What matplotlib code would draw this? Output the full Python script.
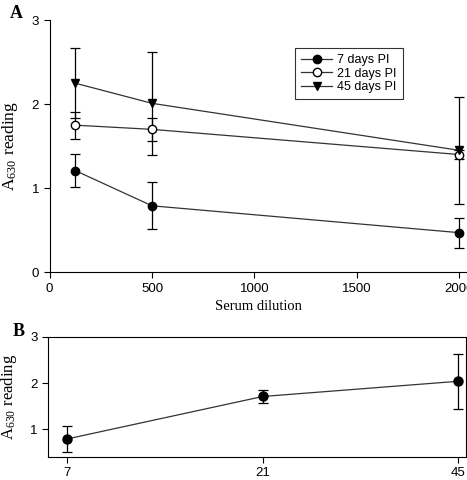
import matplotlib
matplotlib.use('Agg')
import matplotlib.pyplot as plt

# panel A: absorbance vs serum dilution
dilution = [125, 500, 2000]
d7 = [1.21, 0.79, 0.47]
d7_err = [0.20, 0.28, 0.18]
d21 = [1.75, 1.70, 1.40]
d21_err = [0.16, 0.14, 0.05]
d45 = [2.25, 2.01, 1.45]
d45_err = [0.42, 0.61, 0.64]

# panel B: absorbance vs days post infection
days = ['7', '21', '45']
b_vals = [0.79, 1.71, 2.04]
b_err = [0.28, 0.145, 0.60]

plt.rcParams['font.family'] = ['Liberation Sans', 'DejaVu Sans']
plt.rcParams['mathtext.fontset'] = 'stix'
serif = 'Liberation Serif'

fig = plt.figure(figsize=(4.67, 4.8), dpi=100)

ax = fig.add_axes([0.106, 0.433, 0.894, 0.525])
line_c = '#333333'
ekw = dict(fmt='none', ecolor='black', elinewidth=0.9, capsize=3.5, capthick=0.9)
lkw = dict(color=line_c, lw=0.9, mec='black')
ax.errorbar(dilution, d7, yerr=d7_err, **ekw)
ax.errorbar(dilution, d21, yerr=d21_err, **ekw)
ax.errorbar(dilution, d45, yerr=d45_err, **ekw)
ax.plot(dilution, d7, marker='o', ms=6, mfc='black', label='7 days PI', **lkw)
ax.plot(dilution, d21, marker='o', ms=6, mfc='white', label='21 days PI', **lkw)
ax.plot(dilution, d45, marker='v', ms=5.5, mfc='black', label='45 days PI', **lkw)
ax.set_xlim(0, 2037)
ax.set_ylim(0, 3)
ax.set_xticks([0, 500, 1000, 1500, 2000])
ax.set_yticks([0, 1, 2, 3])
ax.spines['top'].set_visible(False)
ax.spines['right'].set_visible(False)
ax.tick_params(direction='out', length=4, labelsize=9.5, width=0.8)
ax.set_xlabel('Serum dilution', family=serif, fontsize=10.5, labelpad=4)
ax.set_ylabel(r'A$_{\mathregular{630}}$ reading', family=serif, fontsize=12.5, labelpad=8)
leg = ax.legend(loc='upper left', bbox_to_anchor=(0.588, 0.889), borderaxespad=0,
                fontsize=9, frameon=True, fancybox=False, edgecolor='black',
                handlelength=2.5, borderpad=0.5, labelspacing=0.1, handletextpad=0.4)
leg.get_frame().set_linewidth(0.8)
fig.text(0.022, 0.972, 'A', family=serif, fontweight='bold', fontsize=13, va='center')

# panel B
bx = fig.add_axes([0.103, 0.048, 0.895, 0.25])
xpos = range(len(days))
bx.errorbar(xpos, b_vals, yerr=b_err, **ekw)
bx.plot(list(xpos), b_vals, marker='o', ms=6.5, mfc='black', **lkw)
bx.set_xlim(-0.097, 2.04)
bx.set_ylim(0.4, 3)
bx.set_xticks(list(xpos))
bx.set_xticklabels(days)
bx.set_yticks([1, 2, 3])
bx.tick_params(direction='out', length=4, labelsize=9.5, width=0.8)
bx.set_ylabel(r'A$_{\mathregular{630}}$ reading', family=serif, fontsize=12, labelpad=8)
fig.text(0.028, 0.31, 'B', family=serif, fontweight='bold', fontsize=13, va='center')

fig.savefig('out.png', dpi=100)
